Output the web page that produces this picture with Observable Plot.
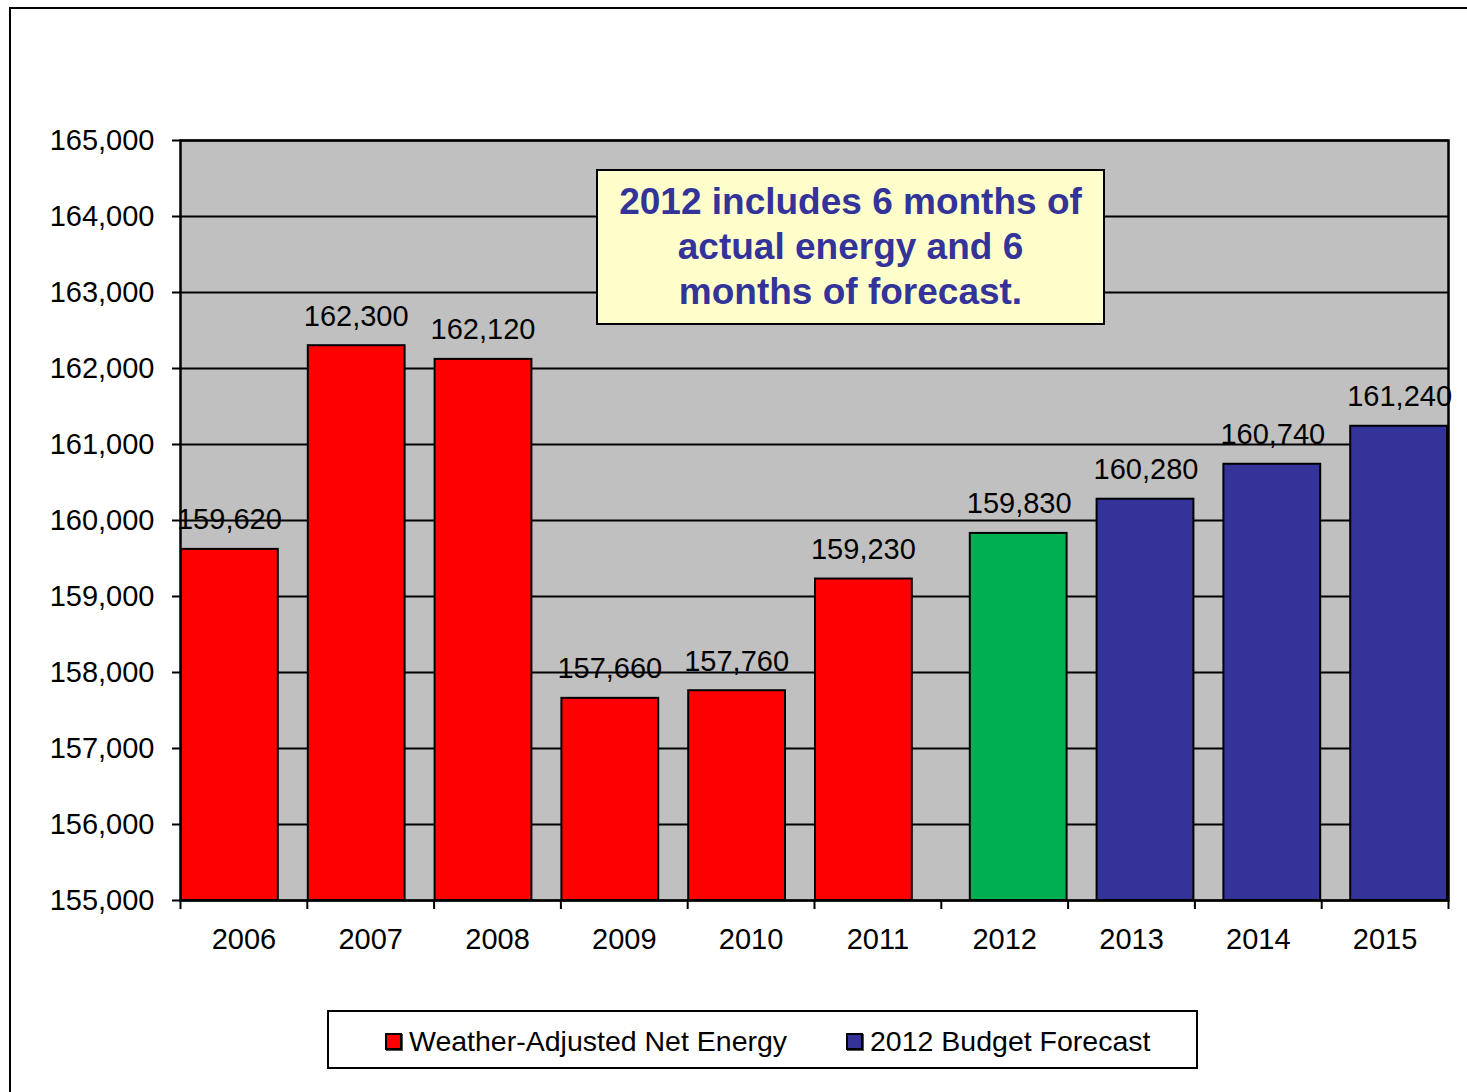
<!DOCTYPE html>
<html>
<head>
<meta charset="utf-8">
<script src="https://cdn.jsdelivr.net/npm/d3@7"></script>
<script src="https://cdn.jsdelivr.net/npm/@observablehq/plot@0.6"></script>
<style>
  body { margin: 0; background: #fff; font-family: Arial, "Liberation Sans", sans-serif; }
  #wrap { position: relative; width: 1467px; height: 1092px; overflow: hidden; background: #fff; }
  #border { position: absolute; left: 9px; top: 7px; width: 1520px; height: 1200px; border: 2px solid #000; box-sizing: border-box; }
  #chart { position: absolute; left: 0; top: 0; }
  #note { position: absolute; left: 596px; top: 169px; width: 509px; height: 156px; box-sizing: border-box;
          background: #FFFFCC; border: 2px solid #000; color: #333399; font-weight: bold; font-size: 37px;
          line-height: 45px; text-align: center; padding-top: 8px; font-family: Arial, "Liberation Sans", sans-serif; }
  #legend { position: absolute; left: 327px; top: 1010px; width: 871px; height: 59px; box-sizing: border-box;
            border: 2px solid #000; background: #fff; }
  .item { position: absolute; top: 2px; height: 55px; display: flex; align-items: center; font-size: 28.5px; color: #000; white-space: nowrap; }
  .sw { width: 13px; height: 13px; border: 2px solid #000; margin-right: 7px; box-shadow: 1px 1px 0 #555; }
</style>
</head>
<body>
<div id="wrap">
  <div id="border"></div>
  <div id="chart"></div>
  <div id="note">2012 includes 6 months of<br>actual energy and 6<br>months of forecast.</div>
  <div id="legend"></div>
</div>
<script>
// ---- data ----
const years = ["2006", "2007", "2008", "2009", "2010", "2011", "2012", "2013", "2014", "2015"];
const values = [159620, 162300, 162120, 157660, 157760, 159230, 159830, 160280, 160740, 161240];
const kinds = ["Actual", "Actual", "Actual", "Actual", "Actual", "Actual", "Actual + Forecast", "Forecast", "Forecast", "Forecast"];
const kindDomain = ["Actual", "Actual + Forecast", "Forecast"];
const legendLabels = ["Weather-Adjusted Net Energy", "2012 Budget Forecast"];
const yTicks = [155000, 156000, 157000, 158000, 159000, 160000, 161000, 162000, 163000, 164000, 165000];
const baseline = 155000;

const data = years.map((y, i) => ({year: y, value: values[i], kind: kinds[i], base: baseline}));

// ---- layout ----
const W = 1467, H = 990, ML = 180, MR = 19, MT = 140, MB = 90;
const band = (W - ML - MR) / years.length;
const inset = 29;
const colors = ["#FF0000", "#00B050", "#333399"];
const fmt = d => d.toLocaleString("en-US");
const isActual = d => d.kind === "Actual";
const notActual = d => d.kind !== "Actual";

const chart = Plot.plot({
  width: W, height: H,
  marginLeft: ML, marginRight: MR, marginTop: MT, marginBottom: MB,
  style: { fontFamily: 'Arial, "Liberation Sans", sans-serif', fontSize: "29px", color: "#000", background: "transparent" },
  x: { domain: years, padding: 0, round: false, label: null },
  y: { domain: [baseline, 165000], label: null },
  color: { domain: kindDomain, range: colors },
  marks: [
    Plot.frame({ fill: "#C0C0C0" }),
    Plot.gridY({ ticks: yTicks, stroke: "#000", strokeOpacity: 1, strokeWidth: 2 }),
    Plot.barY(data, { filter: isActual, x: "year", y1: "base", y2: "value", fill: "kind", stroke: "#000", strokeWidth: 2, insetLeft: 1, insetRight: inset }),
    Plot.barY(data, { filter: notActual, x: "year", y1: "base", y2: "value", fill: "kind", stroke: "#000", strokeWidth: 2, insetLeft: inset, insetRight: 1 }),
    Plot.text(data, { filter: isActual, x: "year", y: "value", text: d => fmt(d.value), lineAnchor: "bottom", dy: -20, dx: -inset / 2, fontSize: 29, fill: "#000" }),
    Plot.text(data, { filter: notActual, x: "year", y: "value", text: d => fmt(d.value), lineAnchor: "bottom", dy: -20, dx: inset / 2, fontSize: 29, fill: "#000" }),
    Plot.frame({ stroke: "#000", strokeWidth: 2.5 }),
    Plot.axisY({ ticks: yTicks, tickFormat: fmt, tickSize: 8, tickPadding: 18, fontSize: 29, stroke: "#000", strokeWidth: 2, label: null }),
    Plot.axisX({ tickSize: 0, tickPadding: 28, fontSize: 29, label: null }),
    Plot.axisX({ tickSize: 9, tickFormat: () => "", dx: -band / 2, stroke: "#000", strokeWidth: 2, label: null }),
    Plot.axisX({ ticks: [years[years.length - 1]], tickSize: 9, tickFormat: () => "", dx: band / 2, stroke: "#000", strokeWidth: 2, label: null })
  ]
});
document.getElementById("chart").appendChild(chart);

// ---- legend ----
const legend = document.getElementById("legend");
const lefts = [56, 517];
legendLabels.forEach((lab, i) => {
  const it = document.createElement("div");
  it.className = "item";
  it.style.left = lefts[i] + "px";
  const sw = document.createElement("span");
  sw.className = "sw";
  sw.style.background = i === 0 ? colors[0] : colors[2];
  const tx = document.createElement("span");
  tx.textContent = lab;
  it.appendChild(sw); it.appendChild(tx);
  legend.appendChild(it);
});
</script>
</body>
</html>
